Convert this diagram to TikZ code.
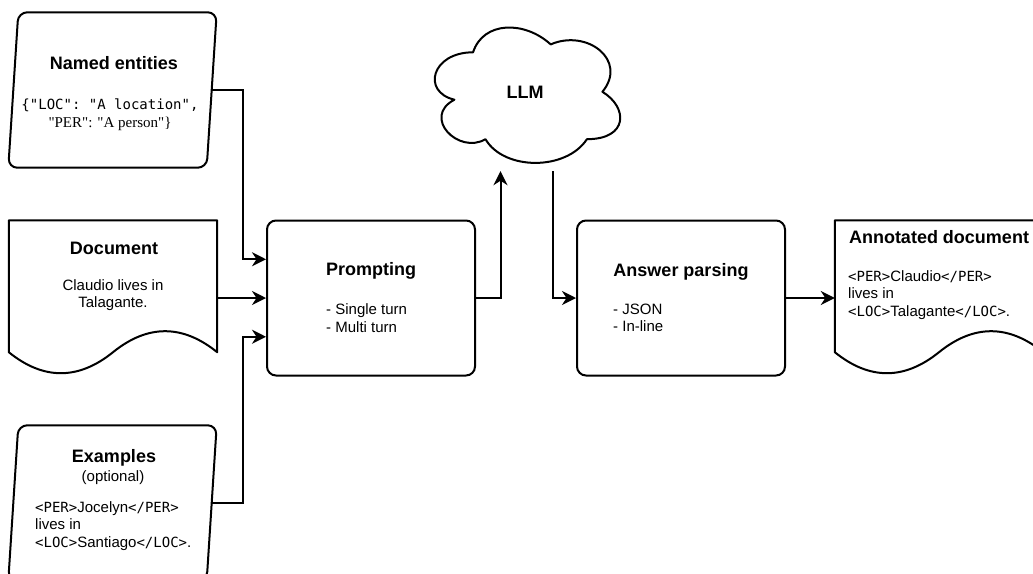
\documentclass[tikz,border=0pt]{standalone}
\usepackage{fontspec}
\setmainfont{Liberation Sans}
\setmonofont{DejaVu Sans Mono}
\newfontfamily\timesfont{Liberation Serif}
\usetikzlibrary{arrows.meta}
\newcommand{\tg}[1]{{\ttfamily\fontsize{14}{17}\selectfont #1}}
\begin{document}
\begin{tikzpicture}[x=1pt,y=-1pt]
	\tikzset{procbox/.style={draw, line width=2pt, rounded corners=9pt, minimum width=208pt, minimum height=155pt},
		shapearea/.style={minimum width=208pt, minimum height=155pt, inner sep=0pt},
		shapeline/.style={line width=2pt, line join=round},
		ttl/.style={font=\bfseries\fontsize{18}{21}\selectfont, inner sep=0pt},
		txt/.style={font=\fontsize{15}{17.5}\selectfont, inner sep=0pt},
		arr/.style={line width=2pt, -{Stealth[length=14pt,width=14pt,inset=4.5pt]}}};
	\useasboundingbox (0,0) rectangle (1033,573);
	\clip (0,0) rectangle (1033,573);

	\node[shapearea] (named) at (112.5,90) {};
	\node[shapearea] (doc) at (113,298) {};
	\node[shapearea] (examples) at (112.5,503) {};
	\node[procbox] (prompt) at (371,298) {};
	\node[minimum width=207pt, minimum height=158pt, inner sep=0pt, ttl] (llm) at (525,92) {LLM};
	\node[procbox] (parse) at (681,298) {};
	\node[shapearea] (annot) at (939,298) {};

	\draw[shapeline, rounded corners=9pt] ([xshift=10pt]named.north west) -- (named.north east) -- ([xshift=-10pt]named.south east) -- (named.south west) -- cycle;
	\draw[shapeline, rounded corners=9pt] ([xshift=10pt]examples.north west) -- (examples.north east) -- ([xshift=-10pt]examples.south east) -- (examples.south west) -- cycle;
	\draw[shapeline] (doc.north west) -- (doc.north east) -- ([yshift=23.5pt]doc.south east)
		.. controls +(-34.7,-28) and +(34.7,-28) .. ([yshift=23.5pt]doc.south)
		.. controls +(-34.7,28) and +(34.7,28) .. ([yshift=23.5pt]doc.south west) -- cycle;
	\draw[shapeline] (annot.north west) -- (annot.north east) -- ([yshift=23.5pt]annot.south east)
		.. controls +(-34.7,-28) and +(34.7,-28) .. ([yshift=23.5pt]annot.south)
		.. controls +(-34.7,28) and +(34.7,28) .. ([yshift=23.5pt]annot.south west) -- cycle;
	\begin{scope}[shift={(llm.north west)}, x=207pt, y=-158pt]
		\draw[shapeline] (0.25,0.25) .. controls (0.05,0.25) and (0,0.5) .. (0.16,0.55)
			.. controls (0,0.66) and (0.18,0.9) .. (0.31,0.8)
			.. controls (0.4,1) and (0.7,1) .. (0.8,0.8)
			.. controls (1,0.8) and (1,0.6) .. (0.875,0.5)
			.. controls (1,0.3) and (0.8,0.1) .. (0.625,0.2)
			.. controls (0.5,0.05) and (0.3,0.05) .. (0.25,0.25) -- cycle;
	\end{scope}

	\node[ttl] (namedtitle) at (114,63) {Named entities};
	\node[txt, align=center] (namedtext) at (110,114.5) {\tg{\{"LOC": "A location",}\\{\timesfont "PER": "A person"\}}};
	\node[ttl] (doctitle) at (114,248) {Document};
	\node[txt, align=center] (doctext) at (113,295) {Claudio lives in\\Talagante.};
	\node[ttl] (extitle) at (114,458) {Examples};
	\node[txt] (exopt) at (113,478) {(optional)};
	\node[txt, align=left, anchor=west] (extext) at (35,526) {\tg{<PER>}Jocelyn\tg{</PER>}\\lives in\\\tg{<LOC>}Santiago\tg{</LOC>}.};
	\node[ttl] (prompttitle) at (371,271) {Prompting};
	\node[txt, align=left, anchor=west] (prompttext) at (326,318) {- Single turn\\- Multi turn};
	\node[ttl] (parsetitle) at (681,272) {Answer parsing};
	\node[txt, align=left, anchor=west] (parsetext) at (613,318) {- JSON\\- In-line};
	\node[ttl] (annottitle) at (939,237) {Annotated document};
	\node[txt, align=left, anchor=west] (annottext) at (848,295) {\tg{<PER>}Claudio\tg{</PER>}\\lives in\\\tg{<LOC>}Talagante\tg{</LOC>}.};

	\draw[arr] ([xshift=-5pt]named.east) -- ++(31,0) |- ([yshift=38.75pt]prompt.west);
	\draw[arr] (doc.east) -- (prompt.west);
	\draw[arr] ([xshift=-5pt]examples.east) -- ++(31,0) |- ([yshift=-38.75pt]prompt.west);
	\draw[arr] (prompt.east) -| ([xshift=-24.5pt]llm.south);
	\draw[arr] ([xshift=27.5pt]llm.south) |- (parse.west);
	\draw[arr] (parse.east) -- (annot.west);
\end{tikzpicture}
\end{document}
